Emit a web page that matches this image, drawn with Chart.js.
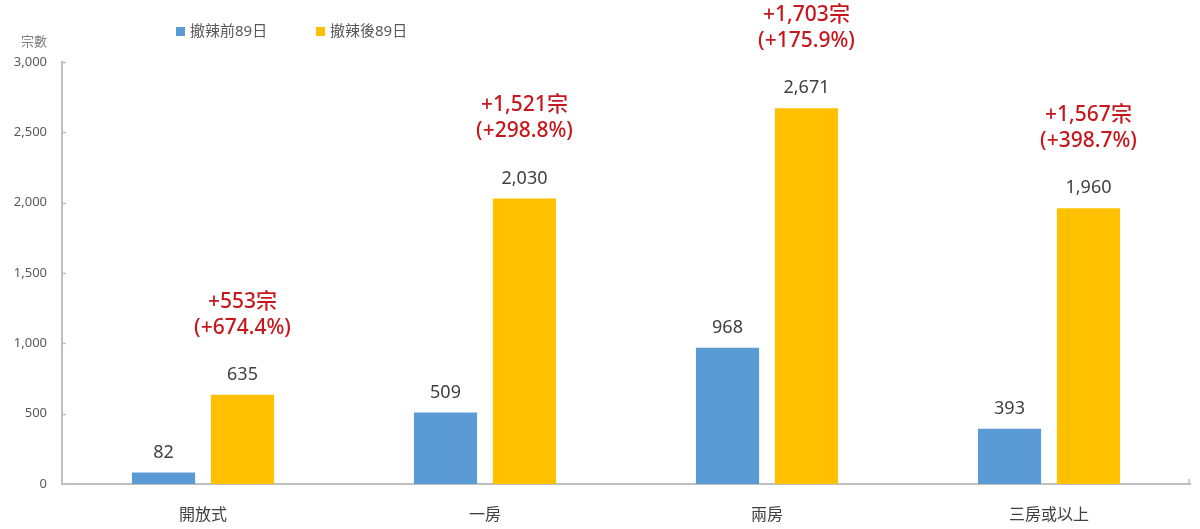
<!DOCTYPE html>
<html><head><meta charset="utf-8">
<script src="https://cdn.jsdelivr.net/npm/chart.js@4/dist/chart.umd.min.js"></script>
<style>html,body{margin:0;padding:0;background:#fff}#wrap{width:1200px;height:529px}</style>
</head><body><div id="wrap"><canvas id="c" width="1200" height="529"></canvas></div>
<script>
const categories = ['開放式', '一房', '兩房', '三房或以上'];
const seriesNames = ['撤辣前89日', '撤辣後89日'];
const before = [82, 509, 968, 393];
const after = [635, 2030, 2671, 1960];
const changeLine1 = ['+553宗', '+1,521宗', '+1,703宗', '+1,567宗'];
const changeLine2 = ['(+674.4%)', '(+298.8%)', '(+175.9%)', '(+398.7%)'];
const yTicks = [0, 500, 1000, 1500, 2000, 2500, 3000];
const yTitle = '宗數';

const FONT = "'Noto Sans', 'Noto Sans CJK TC', sans-serif";
const colors = ['#5B9BD5', '#FFC000'];

const labelPlugin = {
  id: 'labels',
  afterDraw(chart) {
    const ctx = chart.ctx;
    const y = chart.scales.y;
    ctx.save();
    ctx.strokeStyle = '#bfbfbf'; ctx.lineWidth = 1.5;
    yTicks.forEach(v => {
      const py = Math.round(y.getPixelForValue(v)) + 0.5;
      ctx.beginPath(); ctx.moveTo(chart.chartArea.left, py); ctx.lineTo(chart.chartArea.left + 4, py); ctx.stroke();
    });
    ctx.beginPath(); ctx.moveTo(chart.chartArea.right - 1, chart.chartArea.bottom); ctx.lineTo(chart.chartArea.right - 1, chart.chartArea.bottom - 5); ctx.stroke();
    ctx.fillStyle = '#7f7f7f'; ctx.font = '13px ' + FONT; ctx.textAlign = 'center'; ctx.textBaseline = 'middle';
    ctx.fillText(yTitle, 34, 42);
    ctx.font = '18px ' + FONT; ctx.fillStyle = '#404040';
    chart.data.datasets.forEach((ds, di) => {
      chart.getDatasetMeta(di).data.forEach((bar, i) => {
        ctx.fillText(ds.data[i].toLocaleString('en-US'), bar.x, bar.y - 20);
      });
    });
    ctx.font = '500 21px ' + FONT; ctx.fillStyle = '#C8161D';
    chart.getDatasetMeta(1).data.forEach((bar, i) => {
      ctx.fillText(changeLine1[i], bar.x, bar.y - 93);
      ctx.fillText(changeLine2[i], bar.x, bar.y - 67);
    });
    ctx.font = '15px ' + FONT; ctx.textAlign = 'left';
    const lx = [176, 316];
    seriesNames.forEach((n, i) => {
      ctx.fillStyle = colors[i]; ctx.fillRect(lx[i], 27, 9, 9);
      ctx.fillStyle = '#595959'; ctx.fillText(n, lx[i] + 14, 32);
    });
    ctx.restore();
  }
};

new Chart(document.getElementById('c'), {
  type: 'bar',
  data: {
    labels: categories,
    datasets: [
      { label: seriesNames[0], data: before, backgroundColor: colors[0] },
      { label: seriesNames[1], data: after, backgroundColor: colors[1] }
    ]
  },
  options: {
    responsive: false, animation: false,
    layout: { padding: { top: 62, right: 10, left: 0, bottom: 0 } },
    datasets: { bar: { categoryPercentage: 0.56, barPercentage: 0.8 } },
    plugins: { legend: { display: false }, tooltip: { enabled: false } },
    scales: {
      x: {
        grid: { display: false },
        border: { display: true, color: '#bfbfbf', width: 2 },
        ticks: { font: { family: FONT, size: 16 }, color: '#404040', padding: 14 },
        afterFit(s) { s.height = 45; }
      },
      y: {
        min: 0, max: 3000,
        afterBuildTicks(s) { s.ticks = yTicks.map(v => ({ value: v })); },
        grid: { display: false },
        border: { display: true, color: '#bfbfbf', width: 2 },
        ticks: { font: { family: FONT, size: 13 }, color: '#595959', padding: 7,
                 callback: v => v.toLocaleString('en-US') },
        afterFit(s) { s.width = 62; }
      }
    }
  },
  plugins: [labelPlugin]
});
</script></body></html>
